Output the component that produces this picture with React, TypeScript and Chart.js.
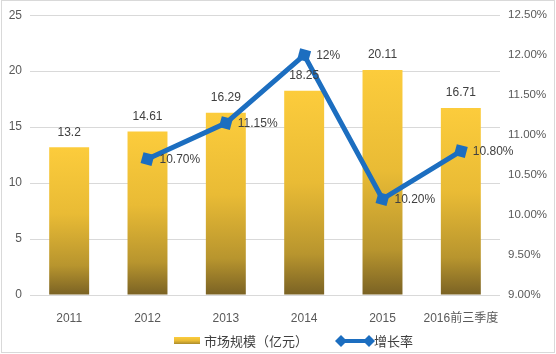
import React, { useEffect, useRef } from "react";
import { Chart, registerables } from "chart.js";

Chart.register(...registerables);

const categories = ["2011", "2012", "2013", "2014", "2015", "2016前三季度"];
const marketSize = [13.2, 14.61, 16.29, 18.25, 20.11, 16.71];
const marketLabels = ["13.2", "14.61", "16.29", "18.25", "20.11", "16.71"];
const growthRate = [null, 10.7, 11.15, 12, 10.2, 10.8];
const growthLabels = ["", "10.70%", "11.15%", "12%", "10.20%", "10.80%"];
const leftTicks = [0, 5, 10, 15, 20, 25];
const rightTicks = [9, 9.5, 10, 10.5, 11, 11.5, 12, 12.5];
const seriesNames = ["市场规模（亿元）", "增长率"];

const FONT = "'Liberation Sans', 'Noto Sans CJK SC', sans-serif";
const CJK = "'Noto Sans CJK SC', sans-serif";
const BLUE = "#1C6EC0";

function barGradient(c: CanvasRenderingContext2D, top: number, bot: number) {
  const g = c.createLinearGradient(0, top, 0, bot);
  g.addColorStop(0, "#FCCC3C");
  g.addColorStop(0.45, "#E9BB35");
  g.addColorStop(0.8, "#B8952E");
  g.addColorStop(1, "#7A6224");
  return g;
}

export default function App() {
  const ref = useRef<HTMLCanvasElement | null>(null);
  useEffect(() => {
    if (!ref.current) return;
    const labelsPlugin = {
      id: "labelsPlugin",
      afterDatasetsDraw(chart: any) {
        const c = chart.ctx as CanvasRenderingContext2D;
        c.save();
        c.font = `12px ${FONT}`;
        c.fillStyle = "#404040";
        c.textBaseline = "middle";
        const barMeta = chart.getDatasetMeta(1);
        barMeta.data.forEach((el: any, i: number) => {
          c.textAlign = "center";
          c.fillText(marketLabels[i], el.x, el.y - 15);
        });
        const lineMeta = chart.getDatasetMeta(0);
        lineMeta.data.forEach((el: any, i: number) => {
          if (growthRate[i] == null) return;
          c.textAlign = "left";
          c.fillText(growthLabels[i], el.x + 12, el.y + 1);
        });
        c.restore();
      },
      afterDraw(chart: any) {
        const c = chart.ctx as CanvasRenderingContext2D;
        c.save();
        c.strokeStyle = "#D9D9D9";
        c.lineWidth = 1;
        c.strokeRect(1.5, 0.5, 553, 352);
        const ly = 341;
        c.fillStyle = barGradient(c, ly - 4, ly + 4);
        c.fillRect(174, ly - 4, 26, 7);
        c.font = `13px ${CJK}`;
        c.fillStyle = "#404040";
        c.textBaseline = "middle";
        c.textAlign = "left";
        c.fillText(seriesNames[0], 204, ly);
        c.strokeStyle = BLUE;
        c.lineWidth = 4;
        c.beginPath();
        c.moveTo(340, ly);
        c.lineTo(370, ly);
        c.stroke();
        c.fillStyle = BLUE;
        [341, 369].forEach((x) => {
          c.beginPath();
          c.moveTo(x, ly - 6);
          c.lineTo(x + 6, ly);
          c.lineTo(x, ly + 6);
          c.lineTo(x - 6, ly);
          c.closePath();
          c.fill();
        });
        c.fillStyle = "#404040";
        c.fillText(seriesNames[1], 374, ly);
        c.restore();
      },
    };

    const chart = new Chart(ref.current, {
      type: "bar",
      data: {
        labels: categories,
        datasets: [
          {
            type: "line",
            label: seriesNames[1],
            data: growthRate as any,
            yAxisID: "y1",
            borderColor: BLUE,
            backgroundColor: BLUE,
            borderWidth: 5,
            pointStyle: "rect",
            pointRotation: 15,
            pointRadius: 8,
            pointBackgroundColor: BLUE,
            pointBorderColor: BLUE,
            pointBorderWidth: 0,
            spanGaps: false,
            order: 0,
            tension: 0,
          } as any,
          {
            type: "bar",
            label: seriesNames[0],
            data: marketSize,
            yAxisID: "y",
            backgroundColor: (ctx: any) => {
              const chart = ctx.chart;
              if (!chart.chartArea || ctx.raw == null) return "#F0C040";
              const ys = chart.scales.y;
              const top = ys.getPixelForValue(ctx.raw);
              const bot = ys.getPixelForValue(0);
              return barGradient(chart.ctx, top, bot);
            },
            categoryPercentage: 1,
            barPercentage: 0.51,
            order: 1,
          } as any,
        ],
      },
      options: {
        responsive: false,
        animation: false,
        layout: { padding: { top: 15, left: 0, right: 0, bottom: 0 } },
        plugins: { legend: { display: false }, tooltip: { enabled: false } },
        scales: {
          x: {
            grid: { display: false },
            border: { display: false },
            ticks: { color: "#595959", font: { size: 12, family: FONT }, padding: 8, maxRotation: 0, autoSkip: false },
            afterFit: (s: any) => { s.height = 59; },
          },
          y: {
            position: "left",
            min: 0,
            max: 25,
            afterBuildTicks: (s: any) => { s.ticks = leftTicks.map((v) => ({ value: v })); },
            grid: { color: "#D9D9D9", drawTicks: false, lineWidth: 1 },
            border: { display: false },
            ticks: { color: "#595959", font: { size: 12, family: FONT }, padding: 8 },
            afterFit: (s: any) => { s.width = 30; },
          },
          y1: {
            position: "right",
            min: 9,
            max: 12.5,
            afterBuildTicks: (s: any) => { s.ticks = rightTicks.map((v) => ({ value: v })); },
            grid: { display: false, drawTicks: false },
            border: { display: false },
            ticks: {
              color: "#595959",
              font: { size: 11.5, family: FONT },
              padding: 8,
              callback: (v: any) => Number(v).toFixed(2) + "%",
            },
            afterFit: (s: any) => { s.width = 56; },
          },
        },
      },
      plugins: [labelsPlugin],
    });
    return () => chart.destroy();
  }, []);

  return (
    <div style={{ position: "fixed", left: 0, top: 0, width: 556, height: 354, background: "#fff" }}>
      <canvas ref={ref} width={556} height={354} style={{ display: "block" }} />
    </div>
  );
}
